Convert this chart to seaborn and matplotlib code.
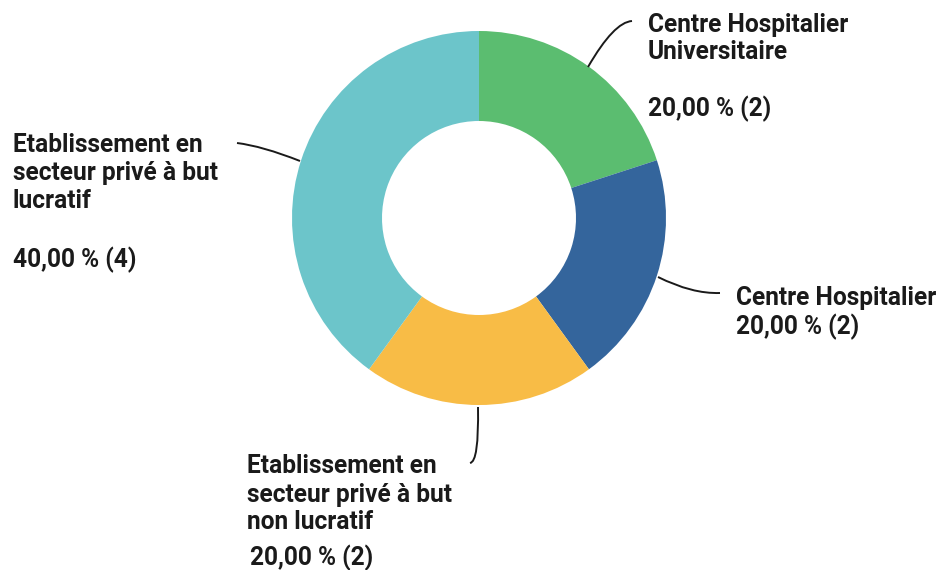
import matplotlib
matplotlib.use("Agg")
import matplotlib.pyplot as plt
from matplotlib.path import Path
from matplotlib.patches import PathPatch
import seaborn as sns

# data
labels = ["Centre Hospitalier Universitaire", "Centre Hospitalier",
          "Etablissement en secteur privé à but non lucratif",
          "Etablissement en secteur privé à but lucratif"]
counts = [2, 2, 2, 4]
pcts = ["20,00 % (2)", "20,00 % (2)", "20,00 % (2)", "40,00 % (4)"]
colors = ["#5BBD70", "#34659C", "#F8BC46", "#6CC5CA"]

sns.set_theme(style="white")
plt.rcParams['font.family'] = ['Roboto', 'DejaVu Sans']

W, H = 942, 570
fig = plt.figure(figsize=(W / 100, H / 100), dpi=100)
ax = fig.add_axes([0, 0, 1, 1])

# donut (y axis inverted -> counterclock in data = clockwise on screen)
ax.pie(counts, colors=colors, center=(479, 218), radius=187,
       startangle=-90, counterclock=True,
       wedgeprops=dict(width=90, linewidth=0))
ax.set_xlim(0, W)
ax.set_ylim(H, 0)
ax.set_aspect('equal')
ax.axis('off')

# pick font size so "Centre Hospitalier" is ~201 px wide
fig.canvas.draw()
r = fig.canvas.get_renderer()
t = ax.text(0, 0, "Centre Hospitalier", fontsize=16, fontweight='bold')
w = t.get_window_extent(renderer=r).width
t.remove()
fs = 16 * 201 / w

def lines(x, ys, texts):
    for y, s in zip(ys, texts):
        ax.text(x, y, s, fontsize=fs, fontweight='bold', color='#1a1a1a',
                ha='left', va='baseline')

lines(648, [32, 59, 116], ["Centre Hospitalier", "Universitaire", pcts[0]])
lines(736, [305, 334], ["Centre Hospitalier", pcts[1]])
lines(247, [473, 502, 529], ["Etablissement en", "secteur privé à but", "non lucratif"])
lines(250, [565], [pcts[2]])
lines(13, [152, 180, 208, 267], ["Etablissement en", "secteur privé à but", "lucratif", pcts[3]])

# leader lines
def leader(p0, c, p1):
    path = Path([p0, c, p1], [Path.MOVETO, Path.CURVE3, Path.CURVE3])
    ax.add_patch(PathPatch(path, fill=False, edgecolor='#1a1a1a', lw=1.4))

leader((588, 67), (614, 22), (632, 21))
leader((658, 277), (692, 294), (720, 293))
leader((478, 407), (479, 462), (470, 463))
leader((300, 161), (262, 146), (237, 143))

fig.savefig("out.png", dpi=100)
